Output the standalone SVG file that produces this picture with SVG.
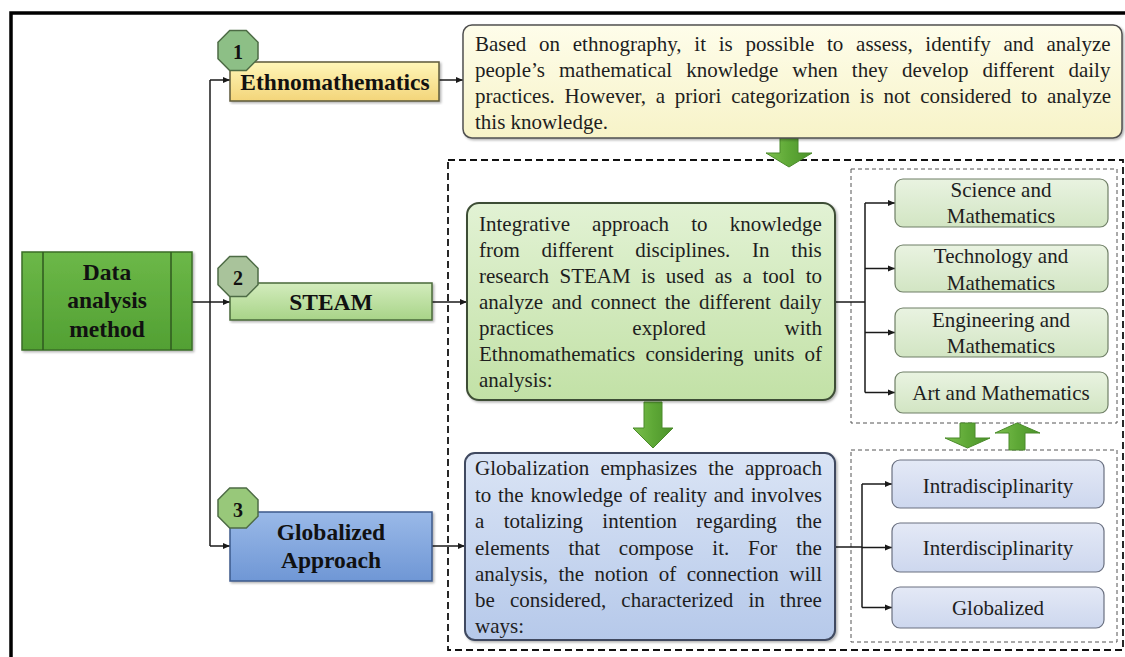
<svg xmlns="http://www.w3.org/2000/svg" width="1125" height="657" viewBox="0 0 1125 657" font-family="'Liberation Serif', 'Times New Roman', Tinos, serif">
<style>
text{fill:#1e1e1e}
.lab{font-size:23.5px;font-weight:bold;text-anchor:middle;fill:#111}
.num{font-size:20px;font-weight:bold;text-anchor:middle;fill:#111}
.body{font-size:21px}
.sm{font-size:21px;text-anchor:middle}
.con{fill:none;stroke:#1a1a1a;stroke-width:1.5}
.oct{stroke:#4d6b45;stroke-width:1.5}
.dash1{fill:none;stroke:#111;stroke-width:1.8;stroke-dasharray:7 4}
.dash2{fill:none;stroke:#555;stroke-width:1;stroke-dasharray:4 3}
.garr{fill:url(#gArrow);stroke:#4a8a2a;stroke-width:1}
</style>
<defs>
<marker id="ah" markerUnits="userSpaceOnUse" markerWidth="8" markerHeight="8" refX="7" refY="4" orient="auto">
<path d="M0,1 L7,4 L0,7 Z" fill="#1a1a1a"/>
</marker>
<filter id="sh" x="-5%" y="-5%" width="112%" height="115%">
<feDropShadow dx="1.5" dy="1.5" stdDeviation="1.2" flood-color="#000" flood-opacity="0.3"/>
</filter>
<linearGradient id="gArrow" x1="0" y1="0" x2="1" y2="0"><stop offset="0" stop-color="#7cc04e"/><stop offset="0.5" stop-color="#5ea836"/><stop offset="1" stop-color="#4b922a"/></linearGradient>
<linearGradient id="gData" x1="0" y1="0" x2="0" y2="1"><stop offset="0" stop-color="#6cb848"/><stop offset="1" stop-color="#52a033"/></linearGradient>
<linearGradient id="gEth" x1="0" y1="0" x2="0" y2="1"><stop offset="0" stop-color="#fff6b8"/><stop offset="1" stop-color="#f3d57a"/></linearGradient>
<linearGradient id="gSte" x1="0" y1="0" x2="0" y2="1"><stop offset="0" stop-color="#d3ecbd"/><stop offset="1" stop-color="#a8d488"/></linearGradient>
<linearGradient id="gGlo" x1="0" y1="0" x2="0" y2="1"><stop offset="0" stop-color="#9ab9e8"/><stop offset="1" stop-color="#6f97d5"/></linearGradient>
<linearGradient id="gT1" x1="0" y1="0" x2="0" y2="1"><stop offset="0" stop-color="#fefdea"/><stop offset="1" stop-color="#f7f3c8"/></linearGradient>
<linearGradient id="gT2" x1="0" y1="0" x2="0" y2="1"><stop offset="0" stop-color="#e2f2d4"/><stop offset="1" stop-color="#c2e1a6"/></linearGradient>
<linearGradient id="gT3" x1="0" y1="0" x2="0" y2="1"><stop offset="0" stop-color="#dae4f5"/><stop offset="1" stop-color="#b6c9ea"/></linearGradient>
<linearGradient id="gSG" x1="0" y1="0" x2="0" y2="1"><stop offset="0" stop-color="#e9f3e1"/><stop offset="1" stop-color="#d2e5c3"/></linearGradient>
<linearGradient id="gSB" x1="0" y1="0" x2="0" y2="1"><stop offset="0" stop-color="#e4e9f6"/><stop offset="1" stop-color="#cdd7ee"/></linearGradient>
<polygon id="octShape" points="-8.3,-20 8.3,-20 20,-8.3 20,8.3 8.3,20 -8.3,20 -20,8.3 -20,-8.3"/>
</defs>
<rect width="1125" height="657" fill="#ffffff"/>
<path d="M11,657 V13 H1125" fill="none" stroke="#000" stroke-width="3.5"/>

<g id="containers">
<rect class="dash1" x="448" y="160" width="675" height="490"/>
<rect class="dash2" x="851" y="169" width="266" height="254"/>
<rect class="dash2" x="851" y="450" width="266" height="192"/>
</g>

<g id="connectors">
<path class="con" d="M210,80 V546"/>
<path class="con" d="M210,80 H230" marker-end="url(#ah)"/>
<path class="con" d="M192,302 H230" marker-end="url(#ah)"/>
<path class="con" d="M210,546 H230" marker-end="url(#ah)"/>
<path class="con" d="M439,80 H463" marker-end="url(#ah)"/>
<path class="con" d="M432,302 H467" marker-end="url(#ah)"/>
<path class="con" d="M432,546 H465" marker-end="url(#ah)"/>
<path class="con" d="M835,302 H865 M865,203 V392.5"/>
<path class="con" d="M865,203 H895" marker-end="url(#ah)"/>
<path class="con" d="M865,268.5 H895" marker-end="url(#ah)"/>
<path class="con" d="M865,332.5 H895" marker-end="url(#ah)"/>
<path class="con" d="M865,392.5 H895" marker-end="url(#ah)"/>
<path class="con" d="M835,547 H862 M862,484 V607.5"/>
<path class="con" d="M862,484 H892" marker-end="url(#ah)"/>
<path class="con" d="M862,547.5 H892" marker-end="url(#ah)"/>
<path class="con" d="M862,607.5 H892" marker-end="url(#ah)"/>
<polygon class="garr" points="780,138 798,138 798,153 812,153 789,167 766,153 780,153"/>
<polygon class="garr" points="644,402 662,402 662,428 673,428 653,448 633,428 644,428"/>
<polygon class="garr" points="960,423 975,423 975,438 990,438 967.5,448 945,438 960,438"/>
<polygon class="garr" points="1009,450 1025,450 1025,433 1040,433 1017,423 995,433 1009,433"/>
</g>

<g id="node-data">
<rect x="22" y="252" width="170" height="98" fill="url(#gData)" stroke="#3b6e27" stroke-width="1.5" filter="url(#sh)"/>
<path d="M43,252 V350 M171,252 V350" stroke="#2f5a1f" stroke-width="1.5"/>
<text class="lab" x="107" y="280">Data</text>
<text class="lab" x="107" y="308">analysis</text>
<text class="lab" x="107" y="337">method</text>
</g>

<g id="node-ethno">
<rect x="230" y="62" width="209" height="39" fill="url(#gEth)" stroke="#5d5a3a" stroke-width="1.5" filter="url(#sh)"/>
<text class="lab" x="335" y="90">Ethnomathematics</text>
<use href="#octShape" x="238" y="50.5" fill="#8dbf86" class="oct"/>
<text class="num" x="238" y="59">1</text>
</g>

<g id="node-steam">
<rect x="230" y="283" width="202" height="37" fill="url(#gSte)" stroke="#4a6a3a" stroke-width="1.5" filter="url(#sh)"/>
<text class="lab" x="331" y="310">STEAM</text>
<use href="#octShape" x="238" y="276.5" fill="#a9c39b" class="oct"/>
<text class="num" x="238" y="285">2</text>
</g>

<g id="node-glob">
<rect x="230" y="512" width="202" height="69" fill="url(#gGlo)" stroke="#3c5a8a" stroke-width="1.5" filter="url(#sh)"/>
<text class="lab" x="331" y="540">Globalized</text>
<text class="lab" x="331" y="568">Approach</text>
<use href="#octShape" x="238" y="508" fill="#98c87a" class="oct"/>
<text class="num" x="238" y="516.5">3</text>
</g>

<g id="text-ethno">
<rect x="463" y="25" width="659" height="113" rx="9" fill="url(#gT1)" stroke="#505050" stroke-width="1.5" filter="url(#sh)"/>
<text class="body" x="475" y="51" style="word-spacing:7.47px">Based on ethnography, it is possible to assess, identify and analyze</text>
<text class="body" x="475" y="77" style="word-spacing:8.77px">people’s mathematical knowledge when they develop different daily</text>
<text class="body" x="475" y="103" style="word-spacing:4.49px">practices. However, a priori categorization is not considered to analyze</text>
<text class="body" x="475" y="129">this knowledge.</text>
</g>

<g id="text-steam">
<rect x="467" y="203" width="368" height="197" rx="12" fill="url(#gT2)" stroke="#3e4e36" stroke-width="2" filter="url(#sh)"/>
<text class="body" x="479" y="231" style="word-spacing:16.9px">Integrative approach to knowledge</text>
<text class="body" x="479" y="257" style="word-spacing:16.5px">from different disciplines. In this</text>
<text class="body" x="479" y="283" style="word-spacing:5.26px">research STEAM is used as a tool to</text>
<text class="body" x="479" y="309" style="word-spacing:3.4px">analyze and connect the different daily</text>
<text class="body" x="479" y="335" style="word-spacing:73.5px">practices explored with</text>
<text class="body" x="479" y="361" style="word-spacing:4.87px">Ethnomathematics considering units of</text>
<text class="body" x="479" y="387">analysis:</text>
</g>

<g id="text-glob">
<rect x="465" y="453" width="370" height="187" rx="10" fill="url(#gT3)" stroke="#3f4a60" stroke-width="2" filter="url(#sh)"/>
<text class="body" x="475" y="475" style="word-spacing:5.83px">Globalization emphasizes the approach</text>
<text class="body" x="475" y="501.5" style="word-spacing:1.45px">to the knowledge of reality and involves</text>
<text class="body" x="475" y="528" style="word-spacing:14.1px">a totalizing intention regarding the</text>
<text class="body" x="475" y="554.5" style="word-spacing:13.6px">elements that compose it. For the</text>
<text class="body" x="475" y="581" style="word-spacing:5.24px">analysis, the notion of connection will</text>
<text class="body" x="475" y="607" style="word-spacing:9.9px">be considered, characterized in three</text>
<text class="body" x="475" y="633">ways:</text>
</g>

<g id="node-science">
<rect x="895" y="179" width="213" height="48" rx="8" fill="url(#gSG)" stroke="#6f7f66" stroke-width="1.2"/>
<text class="sm" x="1001" y="197">Science and</text>
<text class="sm" x="1001" y="223">Mathematics</text>
</g>
<g id="node-technology">
<rect x="895" y="245" width="213" height="47" rx="8" fill="url(#gSG)" stroke="#6f7f66" stroke-width="1.2"/>
<text class="sm" x="1001" y="263">Technology and</text>
<text class="sm" x="1001" y="290">Mathematics</text>
</g>
<g id="node-engineering">
<rect x="895" y="308" width="213" height="49" rx="8" fill="url(#gSG)" stroke="#6f7f66" stroke-width="1.2"/>
<text class="sm" x="1001" y="327">Engineering and</text>
<text class="sm" x="1001" y="353">Mathematics</text>
</g>
<g id="node-art">
<rect x="895" y="372" width="213" height="41" rx="8" fill="url(#gSG)" stroke="#6f7f66" stroke-width="1.2"/>
<text class="sm" x="1001" y="400">Art and Mathematics</text>
</g>

<g id="node-intra">
<rect x="892" y="460" width="212" height="48" rx="8" fill="url(#gSB)" stroke="#6a7080" stroke-width="1.2"/>
<text class="sm" x="998" y="493">Intradisciplinarity</text>
</g>
<g id="node-inter">
<rect x="892" y="523" width="212" height="49" rx="8" fill="url(#gSB)" stroke="#6a7080" stroke-width="1.2"/>
<text class="sm" x="998" y="555">Interdisciplinarity</text>
</g>
<g id="node-globalized">
<rect x="892" y="587" width="212" height="41" rx="8" fill="url(#gSB)" stroke="#6a7080" stroke-width="1.2"/>
<text class="sm" x="998" y="615">Globalized</text>
</g>
</svg>
